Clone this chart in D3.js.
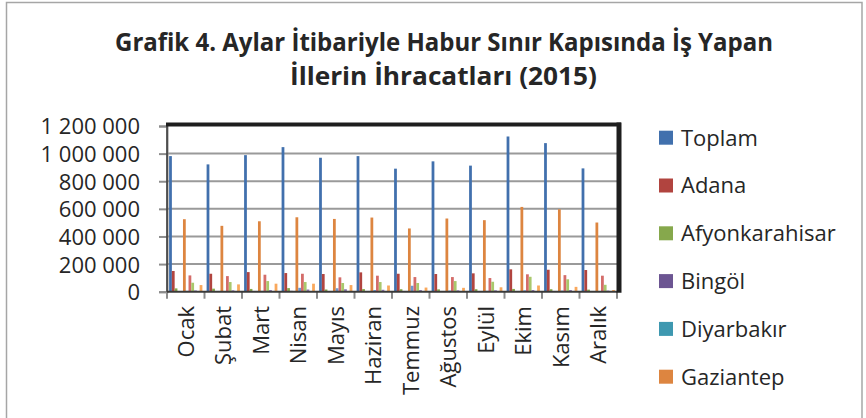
<!DOCTYPE html>
<head>
  <meta charset="utf-8">
  <script src="https://d3js.org/d3.v7.min.js"></script>
  <style>
    body { margin:0; background:#fff; }
    text { font-family: "Open Sans", "DejaVu Sans", sans-serif; fill:#262626; }
  </style>
</head>

<body>

<script>

// aylar (x ekseni)
var months = ["Ocak", "Şubat", "Mart", "Nisan", "Mayıs", "Haziran", "Temmuz", "Ağustos", "Eylül", "Ekim", "Kasım", "Aralık"];

var seriesNames = ["Toplam", "Adana", "Afyonkarahisar", "Bingöl", "Diyarbakır", "Gaziantep",
                   "Hatay", "İstanbul", "Kahramanmaraş", "Mardin", "Mersin", "Şanlıurfa"];

// values (USD)
var toplam     = [982000, 922000, 989000, 1047000, 970000, 982000, 891000, 944000, 913000, 1124000, 1076000, 893000];
var adana      = [150000, 130000, 142000, 135000, 128000, 140000, 130000, 128000, 133000, 162000, 159000, 157000];
var afyon      = [24000, 22000, 20000, 26000, 16000, 19000, 18000, 17000, 18000, 20000, 18000, 15000];
var bingol     = [5000, 4000, 5000, 6000, 5000, 5000, 4000, 5000, 4000, 5000, 5000, 4000];
var diyarbakir = [4000, 3000, 4000, 5000, 4000, 4000, 3000, 4000, 3000, 4000, 4000, 3000];
var gaziantep  = [525000, 477000, 510000, 539000, 527000, 537000, 458000, 530000, 518000, 614000, 597000, 501000];
var hatay      = [6000, 5000, 6000, 28000, 25000, 12000, 43000, 8000, 6000, 10000, 8000, 5000];
var istanbul   = [118000, 113000, 123000, 130000, 104000, 116000, 106000, 106000, 99000, 126000, 120000, 116000];
var kmaras     = [65000, 70000, 77000, 70000, 63000, 70000, 63000, 77000, 72000, 108000, 90000, 50000];
var mardin     = [9000, 10000, 12000, 16000, 18000, 14000, 12000, 10000, 10000, 12000, 12000, 8000];
var mersin     = [4000, 3000, 4000, 4000, 4000, 3000, 3000, 4000, 3000, 4000, 4000, 3000];
var sanliurfa  = [48000, 53000, 58000, 58000, 48000, 45000, 30000, 28000, 32000, 45000, 35000, 12000];

var yTicks = [0, 200000, 400000, 600000, 800000, 1000000, 1200000];

var seriesValues = [toplam, adana, afyon, bingol, diyarbakir, gaziantep,
                    hatay, istanbul, kmaras, mardin, mersin, sanliurfa];

var colors = ["#4170ad", "#b1443f", "#86a84c", "#6c5592", "#3e98b0", "#dd8540",
              "#6d98d2", "#d46c69", "#a9c86c", "#9079b3", "#68bcd2", "#f9a85c"];

var legendCount = 6;   // only first 6 fit in the box

var width = 866,
    height = 418;

var plot = {left: 167, right: 617, top: 126, bottom: 291.7};

var svg = d3.select("body").append("svg")
  .attr("width", width)
  .attr("height", height);

// outer chart border
svg.append("rect")
  .attr("x", 6.5).attr("y", 2.5)
  .attr("width", 855.5).attr("height", 440)
  .style("fill", "none")
  .style("stroke", "#a6a6a6")
  .style("stroke-width", 1.5);

// title - calibri is narrow, so squeeze open sans a bit
var title = svg.append("g")
  .style("font-weight", "bold")
  .style("font-size", "25px");

title.append("text")
  .attr("x", 115).attr("y", 51)
  .attr("textLength", 658)
  .attr("lengthAdjust", "spacingAndGlyphs")
  .text("Grafik 4. Aylar İtibariyle Habur Sınır Kapısında İş Yapan");

title.append("text")
  .attr("x", 290).attr("y", 85)
  .attr("textLength", 307)
  .attr("lengthAdjust", "spacingAndGlyphs")
  .text("İllerin İhracatları (2015)");

var x0 = d3.scaleBand()
  .domain(months)
  .range([plot.left, plot.right])
  .padding(0);

var x1 = d3.scaleBand()
  .domain(d3.range(seriesNames.length))
  .range([2.1, x0.bandwidth() - 2.1])
  .padding(0);

var y = d3.scaleLinear()
  .domain([0, 1200000])
  .range([plot.bottom, plot.top]);

// gridlines
svg.append("g")
  .selectAll("line")
  .data(yTicks.filter(function(d) { return d > 0 && d < 1200000; }))
  .enter().append("line")
  .attr("x1", plot.left).attr("x2", plot.right)
  .attr("y1", function(d) { return y(d); })
  .attr("y2", function(d) { return y(d); })
  .style("stroke", "#9a9a9a")
  .style("stroke-width", 2);

// y axis (ticks to the left, labels right aligned)
var yAxis = d3.axisLeft(y)
  .tickValues(yTicks)
  .tickSize(8)
  .tickPadding(19)
  .tickFormat(function(d) { return d3.format(",")(d).replace(/,/g, " "); });

var gy = svg.append("g")
  .attr("transform", "translate(" + plot.left + ",0)")
  .call(yAxis);

gy.select(".domain").style("stroke", "#8c8c8c").style("stroke-width", 2);
gy.selectAll(".tick line").style("stroke", "#8c8c8c").style("stroke-width", 2);
gy.selectAll("text")
  .style("font-size", "22px")
  .style("fill", "#262626")
  .attr("dy", "0.36em");

// x axis ticks at category boundaries
var xTickPos = months.map(function(m) { return x0(m); }).concat([plot.right]);

svg.append("g")
  .selectAll("line")
  .data(xTickPos)
  .enter().append("line")
  .attr("x1", function(d) { return d; })
  .attr("x2", function(d) { return d; })
  .attr("y1", plot.bottom)
  .attr("y2", plot.bottom + 7)
  .style("stroke", "#8c8c8c")
  .style("stroke-width", 2);

// bars
var groups = svg.append("g")
  .selectAll("g")
  .data(months)
  .enter().append("g")
  .attr("transform", function(d) { return "translate(" + x0(d) + ",0)"; });

groups.selectAll("rect")
  .data(function(m, i) {
    return seriesValues.map(function(s, k) { return {k: k, value: s[i]}; });
  })
  .enter().append("rect")
  .attr("x", function(d) { return x1(d.k); })
  .attr("width", x1.bandwidth())
  .attr("y", function(d) { return y(d.value); })
  .attr("height", function(d) { return plot.bottom - y(d.value); })
  .style("fill", function(d) { return colors[d.k]; });

// bottom axis line
svg.append("line")
  .attr("x1", plot.left).attr("x2", plot.right)
  .attr("y1", plot.bottom).attr("y2", plot.bottom)
  .style("stroke", "#3a3a3a")
  .style("stroke-width", 2);

// frame: left thin, top + right thick black
svg.append("line")
  .attr("x1", plot.left).attr("x2", plot.left)
  .attr("y1", plot.top).attr("y2", plot.bottom)
  .style("stroke", "#3a3a3a")
  .style("stroke-width", 1.5);

svg.append("line")
  .attr("x1", plot.left - 1).attr("x2", plot.right + 4)
  .attr("y1", plot.top - 1.5).attr("y2", plot.top - 1.5)
  .style("stroke", "#1e1e1e")
  .style("stroke-width", 4);

svg.append("line")
  .attr("x1", plot.right + 2).attr("x2", plot.right + 2)
  .attr("y1", plot.top - 3.5).attr("y2", plot.bottom + 1)
  .style("stroke", "#1e1e1e")
  .style("stroke-width", 5);

// month labels, rotated
svg.append("g")
  .selectAll("text")
  .data(months)
  .enter().append("text")
  .attr("transform", function(d) {
    return "translate(" + (x0(d) + x0.bandwidth() / 2) + "," + 306 + ") rotate(-90)";
  })
  .attr("dy", "0.36em")
  .attr("text-anchor", "end")
  .style("font-size", "22px")
  .text(function(d) { return d; });

// legend
var legend = svg.append("g")
  .selectAll("g")
  .data(seriesNames.slice(0, legendCount))
  .enter().append("g")
  .attr("transform", function(d, i) { return "translate(659," + (137.7 + i * 47.8) + ")"; });

legend.append("rect")
  .attr("x", 0).attr("y", -7)
  .attr("width", 14).attr("height", 14)
  .style("fill", function(d, i) { return colors[i]; });

legend.append("text")
  .attr("x", 22)
  .attr("dy", "0.36em")
  .style("font-size", "22px")
  .text(function(d) { return d; });

</script>

</body>
